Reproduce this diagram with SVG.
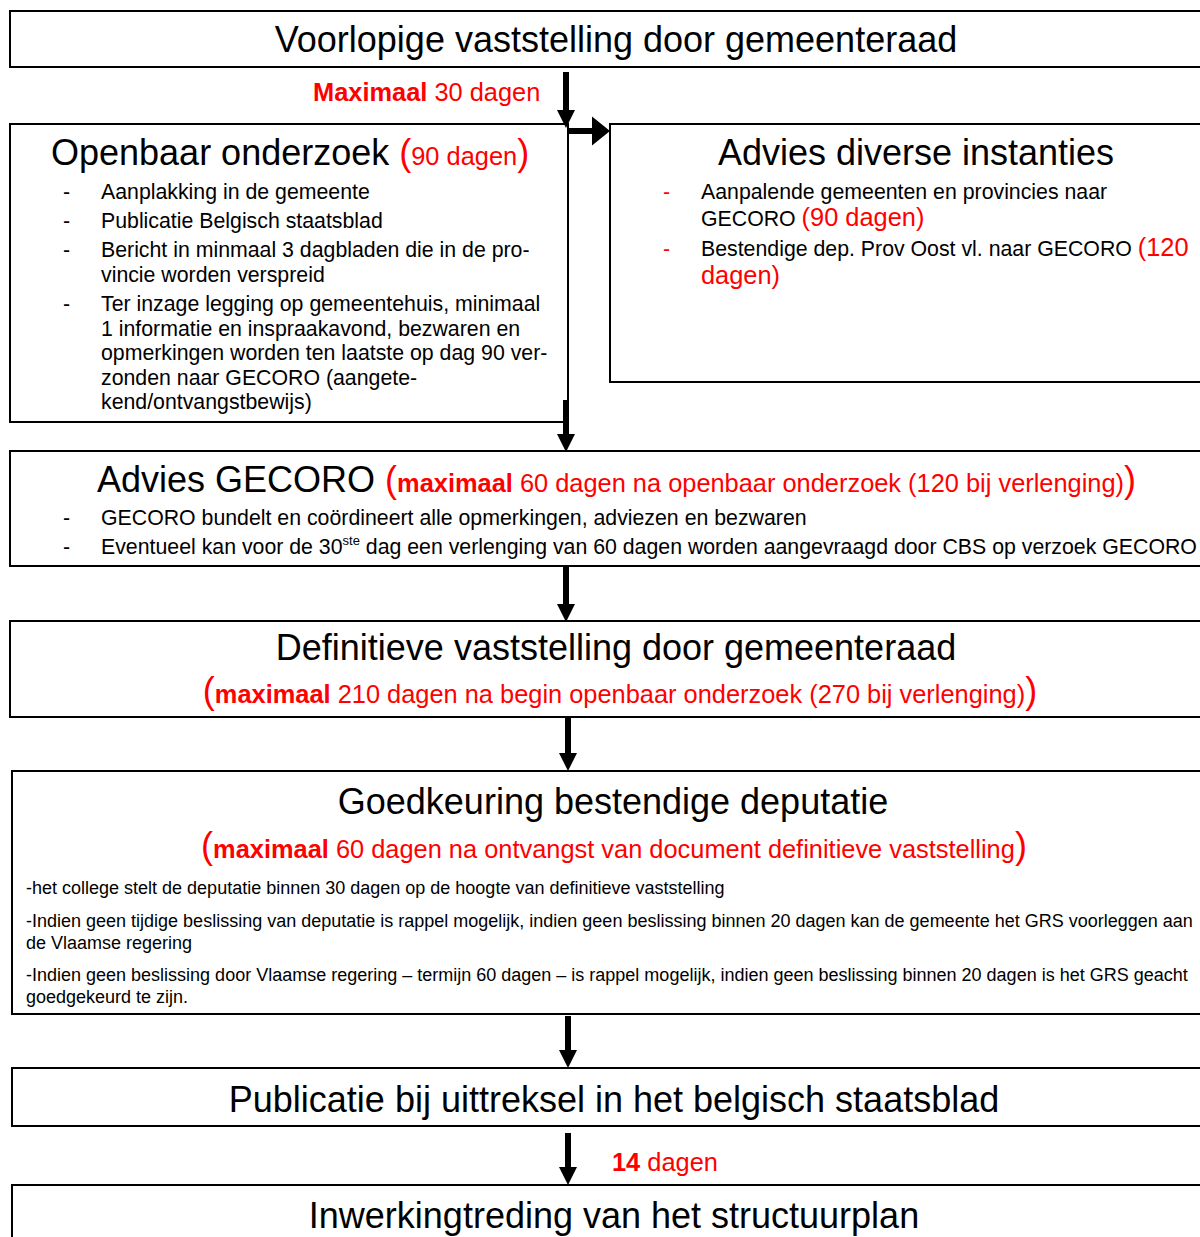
<svg xmlns="http://www.w3.org/2000/svg" width="1200" height="1237" viewBox="0 0 1200 1237">
<style>
text{font-family:"Liberation Sans",Arial,sans-serif;fill:#000}
.box{fill:#fff;stroke:#000;stroke-width:2}
.t{font-size:36px}
.b{font-size:21.3px}
.s{font-size:18px}
.r{fill:#f00}
.rb{fill:#f00;font-weight:bold}
.r25{font-size:25.4px}
.p36{font-size:36px}
.con{stroke:#000;stroke-width:6;fill:none}
</style>
<defs>
<marker id="ah" markerUnits="userSpaceOnUse" markerWidth="20" markerHeight="20" viewBox="0 0 20 20" refX="0" refY="9" orient="auto" overflow="visible">
<path d="M0,0 L18,9 L0,18 Z" fill="#000"/>
</marker>
<marker id="ahb" markerUnits="userSpaceOnUse" markerWidth="20" markerHeight="30" viewBox="0 0 20 30" refX="0" refY="14.5" orient="auto" overflow="visible">
<path d="M0,0 L18,14.5 L0,29 Z" fill="#000"/>
</marker>
</defs>
<rect width="1200" height="1237" fill="#fff"/>

<g id="n1">
<rect class="box" x="10" y="11" width="1210" height="56"/>
<text class="t" x="616" y="52" text-anchor="middle">Voorlopige vaststelling door gemeenteraad</text>
</g>

<g id="lbl1">
<text x="313" y="101" class="r25"><tspan class="rb">Maximaal</tspan><tspan class="r"> 30 dagen</tspan></text>
</g>

<g id="n2">
<rect class="box" x="10" y="124" width="558" height="298"/>
<text x="51" y="165"><tspan class="p36">Openbaar onderzoek </tspan><tspan class="r p36">(</tspan><tspan class="r r25">90 dagen</tspan><tspan class="r p36">)</tspan></text>
<g class="b">
<text x="63" y="199">-</text><text x="101" y="199">Aanplakking in de gemeente</text>
<text x="63" y="228">-</text><text x="101" y="228">Publicatie Belgisch staatsblad</text>
<text x="63" y="257">-</text><text x="101" y="257">Bericht in minmaal 3 dagbladen die in de pro-</text>
<text x="101" y="282">vincie worden verspreid</text>
<text x="63" y="311">-</text><text x="101" y="311">Ter inzage legging op gemeentehuis, minimaal</text>
<text x="101" y="336">1 informatie en inspraakavond, bezwaren en</text>
<text x="101" y="360">opmerkingen worden ten laatste op dag 90 ver-</text>
<text x="101" y="385">zonden naar GECORO (aangete-</text>
<text x="101" y="409">kend/ontvangstbewijs)</text>
</g>
</g>

<g id="n3">
<rect class="box" x="610" y="124" width="610" height="258"/>
<text class="t" x="916" y="165" text-anchor="middle">Advies diverse instanties</text>
<g class="b">
<text x="663" y="199" class="r">-</text><text x="701" y="199">Aanpalende gemeenten en provincies naar</text>
<text x="701" y="226">GECORO <tspan class="r r25">(90 dagen)</tspan></text>
<text x="663" y="256" class="r">-</text><text x="701" y="256">Bestendige dep. Prov Oost vl. naar GECORO <tspan class="r r25">(120</tspan></text>
<text x="701" y="284" class="r r25">dagen)</text>
</g>
</g>

<g id="n4">
<rect class="box" x="10" y="451" width="1210" height="115"/>
<text x="97" y="492"><tspan class="p36">Advies GECORO </tspan><tspan class="r p36">(</tspan><tspan class="rb r25">maximaal</tspan><tspan class="r r25"> 60 dagen na openbaar onderzoek (120 bij verlenging)</tspan><tspan class="r p36">)</tspan></text>
<g class="b">
<text x="63" y="525">-</text><text x="101" y="525">GECORO bundelt en coördineert alle opmerkingen, adviezen en bezwaren</text>
<text x="63" y="554">-</text><text x="101" y="554">Eventueel kan voor de 30<tspan font-size="13" dy="-9">ste</tspan><tspan dy="9"> dag een verlenging van 60 dagen worden aangevraagd door CBS op verzoek GECORO</tspan></text>
</g>
</g>

<g id="n5">
<rect class="box" x="10" y="621" width="1210" height="96"/>
<text class="t" x="616" y="660" text-anchor="middle">Definitieve vaststelling door gemeenteraad</text>
<text x="620" y="703" text-anchor="middle"><tspan class="r p36">(</tspan><tspan class="rb r25">maximaal</tspan><tspan class="r r25"> 210 dagen na begin openbaar onderzoek (270 bij verlenging)</tspan><tspan class="r p36">)</tspan></text>
</g>

<g id="n6">
<rect class="box" x="12" y="771" width="1208" height="243"/>
<text class="t" x="613" y="814" text-anchor="middle">Goedkeuring bestendige deputatie</text>
<text x="614" y="858" text-anchor="middle"><tspan class="r p36">(</tspan><tspan class="rb r25">maximaal</tspan><tspan class="r r25"> 60 dagen na ontvangst van document definitieve vaststelling</tspan><tspan class="r p36">)</tspan></text>
<g class="s">
<text x="26" y="894">-het college stelt de deputatie binnen 30 dagen op de hoogte van definitieve vaststelling</text>
<text x="26" y="927">-Indien geen tijdige beslissing van deputatie is rappel mogelijk, indien geen beslissing binnen 20 dagen kan de gemeente het GRS voorleggen aan</text>
<text x="26" y="949">de Vlaamse regering</text>
<text x="26" y="981">-Indien geen beslissing door Vlaamse regering – termijn 60 dagen – is rappel mogelijk, indien geen beslissing binnen 20 dagen is het GRS geacht</text>
<text x="26" y="1003">goedgekeurd te zijn.</text>
</g>
</g>

<g id="n7">
<rect class="box" x="12" y="1068" width="1208" height="58"/>
<text class="t" x="614" y="1112" text-anchor="middle" font-size="36.3">Publicatie bij uittreksel in het belgisch staatsblad</text>
</g>

<g id="lbl2">
<text x="612" y="1171" class="r25"><tspan class="rb">14</tspan><tspan class="r"> dagen</tspan></text>
</g>

<g id="n8">
<rect class="box" x="12" y="1185" width="1208" height="70"/>
<text class="t" x="614" y="1228" text-anchor="middle">Inwerkingtreding van het structuurplan</text>
</g>

<g id="connectors">
<line class="con" x1="566" y1="72" x2="566" y2="110" marker-end="url(#ah)"/>
<line class="con" x1="569" y1="131" x2="592" y2="131" stroke-width="8" marker-end="url(#ahb)"/>
<line class="con" x1="566" y1="400" x2="566" y2="434" marker-end="url(#ah)"/>
<line class="con" x1="566" y1="567" x2="566" y2="604" marker-end="url(#ah)"/>
<line class="con" x1="568" y1="718" x2="568" y2="753" marker-end="url(#ah)"/>
<line class="con" x1="568" y1="1016" x2="568" y2="1050" marker-end="url(#ah)"/>
<line class="con" x1="568" y1="1133" x2="568" y2="1167" marker-end="url(#ah)"/>
</g>
</svg>
